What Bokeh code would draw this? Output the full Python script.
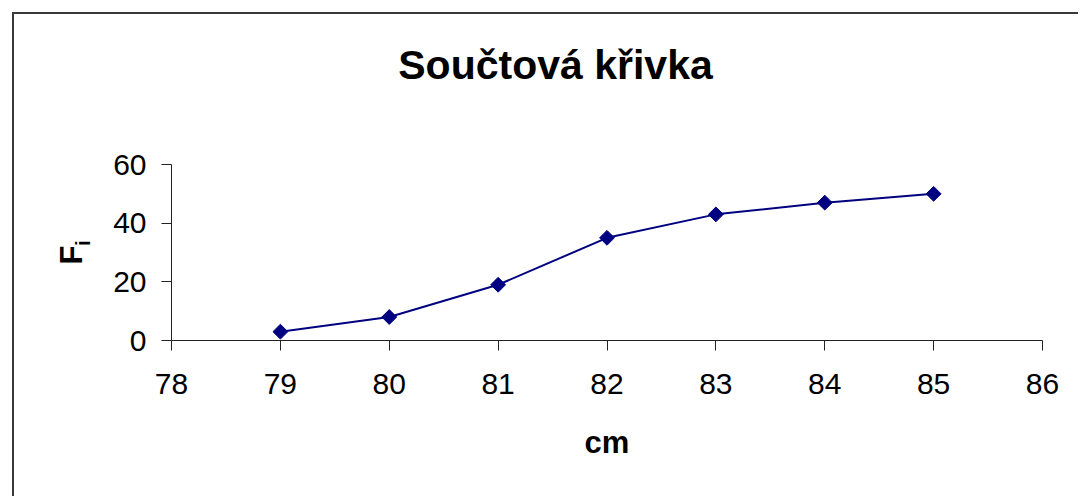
import math
from bokeh.plotting import figure
from bokeh.models import Label, Range1d, FixedTicker, ColumnDataSource
from bokeh.embed import file_html
from bokeh.resources import INLINE

# ---- data ----
x_cm = [79, 80, 81, 82, 83, 84, 85]
F_i = [3, 8, 19, 35, 43, 47, 50]
x_ticks = [78, 79, 80, 81, 82, 83, 84, 85, 86]
y_ticks = [0, 20, 40, 60]
title_text = "Součtová křivka"
x_label = "cm"
y_label_main = "F"
y_label_sub = "i"

FONT = "Liberation Sans"
OFF = 14  # margin + border of chart area
W, H = 1080 - OFF, 498 - OFF
FRAME_L, FRAME_R, FRAME_T, FRAME_B = 171, 1042, 164, 340   # page pixels
X0, X1, Y0, Y1 = x_ticks[0], x_ticks[-1], y_ticks[0], y_ticks[-1]


def px_to_x(px):
    return X0 + (px - FRAME_L) * (X1 - X0) / (FRAME_R - FRAME_L)


def py_to_y(py):
    return Y0 + (FRAME_B - py) * (Y1 - Y0) / (FRAME_B - FRAME_T)


p = figure(width=W, height=H, output_backend="svg", toolbar_location=None,
           x_range=Range1d(X0, X1), y_range=Range1d(Y0, Y1),
           min_border_left=FRAME_L - OFF, min_border_right=1080 - FRAME_R,
           min_border_top=FRAME_T - OFF, min_border_bottom=498 - FRAME_B)
p.styles = {"border-left": "2px solid #3a3a3a", "border-top": "2px solid #3a3a3a",
            "margin-left": "12px", "margin-top": "12px"}
p.outline_line_color = None
p.xgrid.visible = False
p.ygrid.visible = False
p.background_fill_color = "white"
p.border_fill_color = "white"
p.title.visible = False

for ax in (p.xaxis[0], p.yaxis[0]):
    ax.axis_line_color = "#222222"
    ax.axis_line_width = 1
    ax.major_tick_line_color = "#222222"
    ax.major_tick_in = 0
    ax.major_tick_out = 10
    ax.minor_tick_line_color = None
    ax.major_label_text_font = FONT
    ax.major_label_text_font_size = "30px"
    ax.major_label_text_color = "black"

p.xaxis.ticker = FixedTicker(ticks=x_ticks)
p.yaxis.ticker = FixedTicker(ticks=y_ticks)
p.xaxis.major_label_standoff = 23
p.yaxis.major_label_standoff = 15
p.xaxis.axis_label = x_label
p.xaxis.axis_label_text_font = FONT
p.xaxis.axis_label_text_font_style = "bold"
p.xaxis.axis_label_text_font_size = "31px"
p.xaxis.axis_label_standoff = 28
p.xaxis.axis_label_text_color = "black"

src = ColumnDataSource(dict(x=x_cm, y=F_i))
p.line("x", "y", source=src, line_color="#000080", line_width=2)
p.scatter("x", "y", source=src, marker="square", size=10.5, angle=math.pi / 4,
          fill_color="#000080", line_color="#000080")

# chart title, centred on the whole chart area
p.add_layout(Label(x=px_to_x(555), y=py_to_y(64), text=title_text,
                   text_font=FONT, text_font_style="bold", text_font_size="41px",
                   text_align="center", text_baseline="middle",
                   text_color="black"), "above")

# y axis label F with subscript i
p.add_layout(Label(x=px_to_x(71), y=py_to_y(264), angle=math.pi / 2,
                   text=y_label_main, text_font=FONT, text_font_style="bold",
                   text_font_size="31px", text_align="left",
                   text_baseline="middle", text_color="black"), "left")
p.add_layout(Label(x=px_to_x(81.7), y=py_to_y(245.5), angle=math.pi / 2,
                   text=y_label_sub, text_font=FONT, text_font_style="bold",
                   text_font_size="21px", text_align="left",
                   text_baseline="middle", text_color="black"), "left")

open("out.html", "w").write(file_html(p, INLINE))
